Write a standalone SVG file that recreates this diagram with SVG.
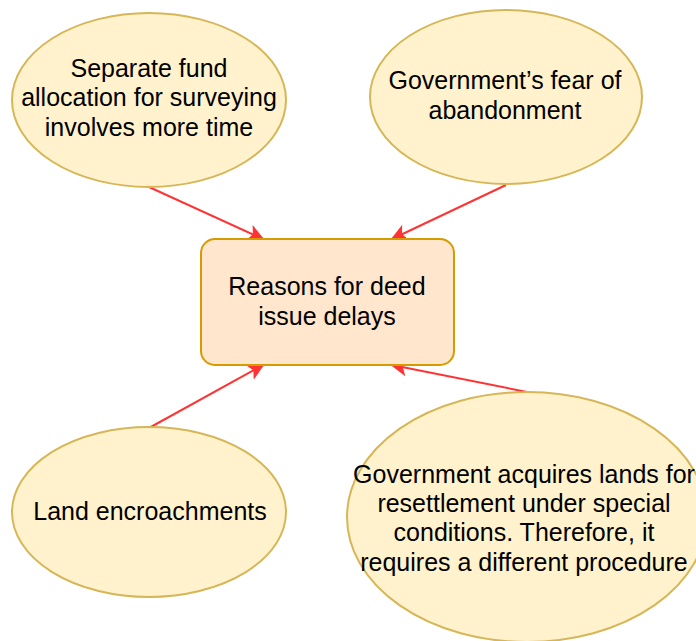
<svg xmlns="http://www.w3.org/2000/svg" width="696" height="641" viewBox="0 0 696 641">
<defs>
<marker id="arr" viewBox="0 0 10 10" refX="9" refY="5" markerWidth="8.5" markerHeight="8.5" orient="auto" markerUnits="strokeWidth">
<path d="M0,0 L10,5 L0,10 L2.5,5 Z" fill="#FF3333"/>
</marker>
<style>
.ell{fill:#FFF2CC;stroke:#D6B656;stroke-width:2}
.box{fill:#FFE6CC;stroke:#D79B00;stroke-width:2}
.t{font-family:"Liberation Sans",Arial,Helvetica,sans-serif;font-size:25px;fill:#000;text-anchor:middle}
.c{fill:none;stroke:#FF3333;stroke-width:2;marker-end:url(#arr)}
</style>
</defs>
<rect width="696" height="641" fill="#fff"/>
<g id="connectors">
<line class="c" x1="149" y1="187" x2="263" y2="239"/>
<line class="c" x1="506" y1="185" x2="392" y2="239"/>
<line class="c" x1="149" y1="428" x2="263" y2="365"/>
<line class="c" x1="527" y1="392" x2="392" y2="365"/>
</g>
<g id="center">
<rect class="box" x="201" y="239" width="253" height="126" rx="14" ry="14"/>
<text class="t" x="327" y="295">Reasons for deed</text>
<text class="t" x="327" y="325">issue delays</text>
</g>
<g id="n1">
<ellipse class="ell" cx="149" cy="100" rx="137" ry="87"/>
<text class="t" x="149" y="77">Separate fund</text>
<text class="t" x="149" y="106">allocation for surveying</text>
<text class="t" x="149" y="136">involves more time</text>
</g>
<g id="n2">
<ellipse class="ell" cx="506" cy="97" rx="136" ry="87"/>
<text class="t" x="505" y="89">Government’s fear of</text>
<text class="t" x="505" y="119">abandonment</text>
</g>
<g id="n3">
<ellipse class="ell" cx="149" cy="512" rx="137" ry="85"/>
<text class="t" x="150" y="520">Land encroachments</text>
</g>
<g id="n4">
<ellipse class="ell" cx="527" cy="517" rx="180" ry="125"/>
<text class="t" x="524" y="483">Government acquires lands for</text>
<text class="t" x="524" y="512">resettlement under special</text>
<text class="t" x="524" y="541">conditions. Therefore, it</text>
<text class="t" x="524" y="571">requires a different procedure</text>
</g>
</svg>
